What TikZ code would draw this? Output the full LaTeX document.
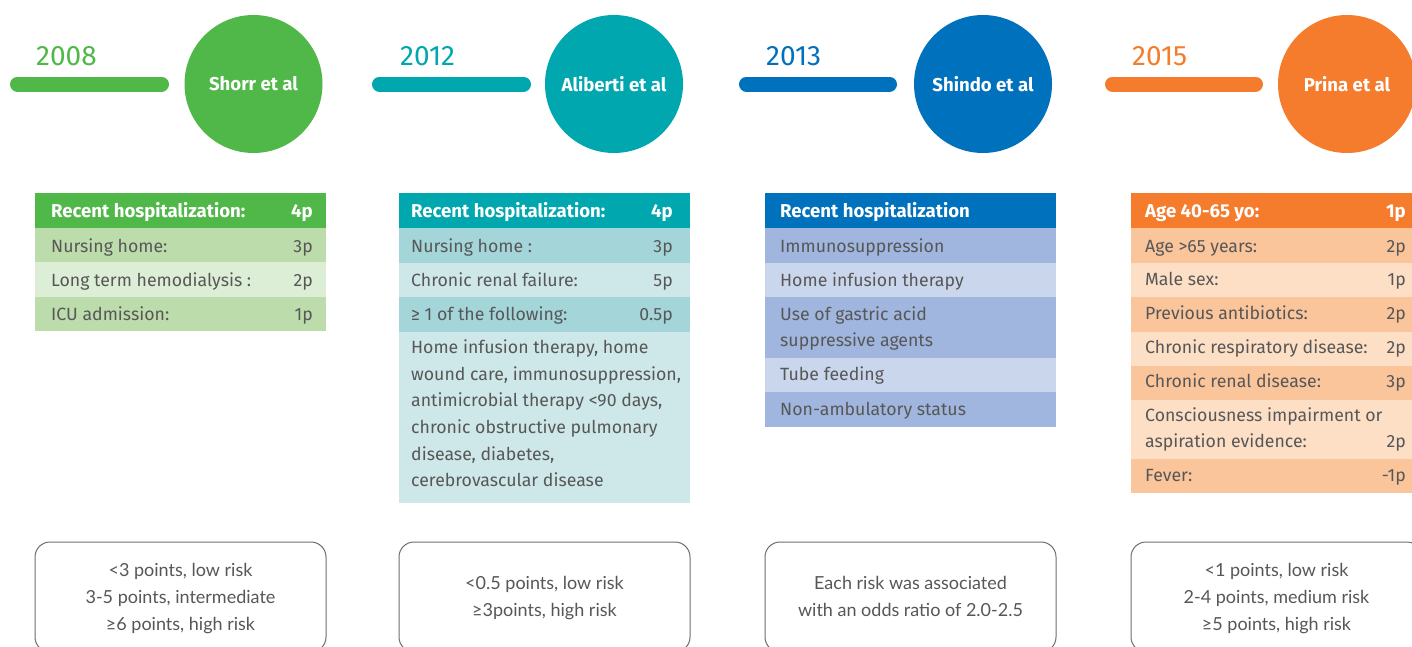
\documentclass[tikz,border=0pt]{standalone}
\usepackage{fontspec}
\setmainfont{Fira Sans}
\newfontfamily\boxfont{Lato}
\definecolor{txtgray}{HTML}{575757}
\definecolor{boxgray}{HTML}{6D6E71}
\definecolor{gH}{HTML}{50B848}\definecolor{gD}{HTML}{BCDDAB}\definecolor{gL}{HTML}{DDEED6}
\definecolor{tH}{HTML}{00A7AF}\definecolor{tD}{HTML}{A4D5D9}\definecolor{tL}{HTML}{CEE8EA}
\definecolor{bH}{HTML}{0071BC}\definecolor{bD}{HTML}{A0B6DE}\definecolor{bL}{HTML}{CAD6EC}
\definecolor{oH}{HTML}{F47C2C}\definecolor{oD}{HTML}{FBC59B}\definecolor{oL}{HTML}{FDDFC6}
\tikzset{
  cell/.style={anchor=base west, inner sep=0pt, text=txtgray, font=\fontsize{17.7}{20}\selectfont},
  val/.style={anchor=base east, inner sep=0pt, text=txtgray, font=\fontsize{17.7}{20}\selectfont},
  hdr/.style={anchor=base west, inner sep=0pt, text=white, font=\bfseries\fontsize{18.6}{20}\selectfont},
  hval/.style={anchor=base east, inner sep=0pt, text=white, font=\bfseries\fontsize{18.6}{20}\selectfont},
  year/.style={anchor=base west, inner sep=0pt, font=\fontsize{28}{30}\selectfont},
  circ/.style={circle, minimum size=138pt, inner sep=0pt, text=white, font=\bfseries\fontsize{18.6}{20}\selectfont},
  bar/.style={line width=15pt, line cap=round},
  note/.style={draw=boxgray, line width=1pt, rounded corners=15pt},
  notetext/.style={anchor=base, inner sep=0pt, text=txtgray, font=\boxfont\fontsize{18}{20}\selectfont}
}
\begin{document}
\begin{tikzpicture}[x=1pt,y=-1pt]
\useasboundingbox (0,0) rectangle (1412,646);
\clip (0,0) rectangle (1412,646);
\fill[white] (0,0) rectangle (1412,646);

% ---------- timeline heads ----------
\coordinate (gb1) at (17.5,84); \coordinate (gb2) at (161.5,84);
\draw[bar, gH] (gb1) -- (gb2);
\node[year, text=gH] (y2008) at (36,65) {2008};
\node[circ, fill=gH] (shorr) at (253.5,84) {Shorr et al};

\coordinate (tb1) at (379.5,84); \coordinate (tb2) at (523.5,84);
\draw[bar, tH] (tb1) -- (tb2);
\node[year, text=tH] (y2012) at (400,65) {2012};
\node[circ, fill=tH] (aliberti) at (614,84) {Aliberti et al};

\coordinate (bb1) at (746.5,84); \coordinate (bb2) at (889.5,84);
\draw[bar, bH] (bb1) -- (bb2);
\node[year, text=bH] (y2013) at (766,65) {2013};
\node[circ, fill=bH] (shindo) at (983,84) {Shindo et al};

\coordinate (ob1) at (1112.5,84); \coordinate (ob2) at (1255.5,84);
\draw[bar, oH] (ob1) -- (ob2);
\node[year, text=oH] (y2015) at (1132,65) {2015};
\node[circ, fill=oH] (prina) at (1347,84) {Prina et al};

% ---------- Shorr table ----------
\fill[gH] (35,193) rectangle (326,228);
\fill[gD] (35,228) rectangle (326,262);
\fill[gL] (35,262) rectangle (326,297);
\fill[gD] (35,297) rectangle (326,331);
\node[hdr] (g1) at (51,217) {Recent hospitalization:};
\node[hval] (g1v) at (313,217) {4p};
\node[cell] (g2) at (51,252) {Nursing home:};
\node[val] (g2v) at (313,252) {3p};
\node[cell] (g3) at (51,286.5) {Long term hemodialysis :};
\node[val] (g3v) at (313,286.5) {2p};
\node[cell] (g4) at (51,320.5) {ICU admission:};
\node[val] (g4v) at (313,320.5) {1p};

% ---------- Aliberti table ----------
\fill[tH] (399,193) rectangle (690,228);
\fill[tD] (399,228) rectangle (690,263);
\fill[tL] (399,263) rectangle (690,297);
\fill[tD] (399,297) rectangle (690,332);
\fill[tL] (399,332) rectangle (690,503);
\node[hdr] (t1) at (411,217) {Recent hospitalization:};
\node[hval] (t1v) at (673,217) {4p};
\node[cell] (t2) at (411,252) {Nursing home :};
\node[val] (t2v) at (673,252) {3p};
\node[cell] (t3) at (411,286) {Chronic renal failure:};
\node[val] (t3v) at (673,286) {5p};
\node[cell] (t4) at (411,320) {≥ 1 of the following:};
\node[val] (t4v) at (673,320) {0.5p};
\node[cell] (t5a) at (411,353.3) {Home infusion therapy, home};
\node[cell] (t5b) at (411,380) {wound care, immunosuppression,};
\node[cell] (t5c) at (411,406.7) {antimicrobial therapy <90 days,};
\node[cell] (t5d) at (411,433.4) {chronic obstructive pulmonary};
\node[cell] (t5e) at (411,460) {disease, diabetes,};
\node[cell] (t5f) at (411,486.7) {cerebrovascular disease};

% ---------- Shindo table ----------
\fill[bH] (765,193) rectangle (1056,228);
\fill[bD] (765,228) rectangle (1056,263);
\fill[bL] (765,263) rectangle (1056,297);
\fill[bD] (765,297) rectangle (1056,358);
\fill[bL] (765,358) rectangle (1056,392);
\fill[bD] (765,392) rectangle (1056,427);
\node[hdr] (b1) at (780,217) {Recent hospitalization};
\node[cell] (b2) at (780,252) {Immunosuppression};
\node[cell] (b3) at (780,286) {Home infusion therapy};
\node[cell] (b4a) at (780,320) {Use of gastric acid};
\node[cell] (b4b) at (780,346.7) {suppressive agents};
\node[cell] (b5) at (780,380.5) {Tube feeding};
\node[cell] (b6) at (780,415) {Non-ambulatory status};

% ---------- Prina table ----------
\fill[oH] (1131,193) rectangle (1422,228);
\fill[oD] (1131,228) rectangle (1422,263);
\fill[oL] (1131,263) rectangle (1422,297);
\fill[oD] (1131,297) rectangle (1422,332);
\fill[oL] (1131,332) rectangle (1422,366);
\fill[oD] (1131,366) rectangle (1422,400);
\fill[oL] (1131,400) rectangle (1422,459);
\fill[oD] (1131,459) rectangle (1422,493);
\node[hdr] (o1) at (1145,217) {Age 40-65 yo:};
\node[hval] (o1v) at (1406,217) {1p};
\node[cell] (o2) at (1145,252) {Age >65 years:};
\node[val] (o2v) at (1406,252) {2p};
\node[cell] (o3) at (1145,285.5) {Male sex:};
\node[val] (o3v) at (1406,285.5) {1p};
\node[cell] (o4) at (1145,319.5) {Previous antibiotics:};
\node[val] (o4v) at (1406,319.5) {2p};
\node[cell] (o5) at (1145,353.5) {Chronic respiratory disease:};
\node[val] (o5v) at (1406,353.5) {2p};
\node[cell] (o6) at (1145,387.5) {Chronic renal disease:};
\node[val] (o6v) at (1406,387.5) {3p};
\node[cell] (o7a) at (1145,421.7) {Consciousness impairment or};
\node[cell] (o7b) at (1145,447.7) {aspiration evidence:};
\node[val] (o7v) at (1406,447.7) {2p};
\node[cell] (o8) at (1145,481.7) {Fever:};
\node[val] (o8v) at (1406,481.7) {-1p};

% ---------- risk boxes ----------
\draw[note] (35,542) rectangle (326,652);
\node[notetext] (gr1) at (180.5,576) {<3 points, low risk};
\node[notetext] (gr2) at (180.5,603) {3-5 points, intermediate};
\node[notetext] (gr3) at (180.5,630) {≥6 points, high risk};

\draw[note] (399,542) rectangle (690,652);
\node[notetext] (tr1) at (544.5,589.5) {<0.5 points, low risk};
\node[notetext] (tr2) at (544.5,616.5) {≥3points, high risk};

\draw[note] (765,542) rectangle (1056,652);
\node[notetext] (br1) at (910.5,589.5) {Each risk was associated};
\node[notetext] (br2) at (910.5,616) {with an odds ratio of 2.0-2.5};

\draw[note] (1131,542) rectangle (1422,652);
\node[notetext] (or1) at (1276.5,576) {<1 points, low risk};
\node[notetext] (or2) at (1276.5,603) {2-4 points, medium risk};
\node[notetext] (or3) at (1276.5,630) {≥5 points, high risk};
\end{tikzpicture}
\end{document}
